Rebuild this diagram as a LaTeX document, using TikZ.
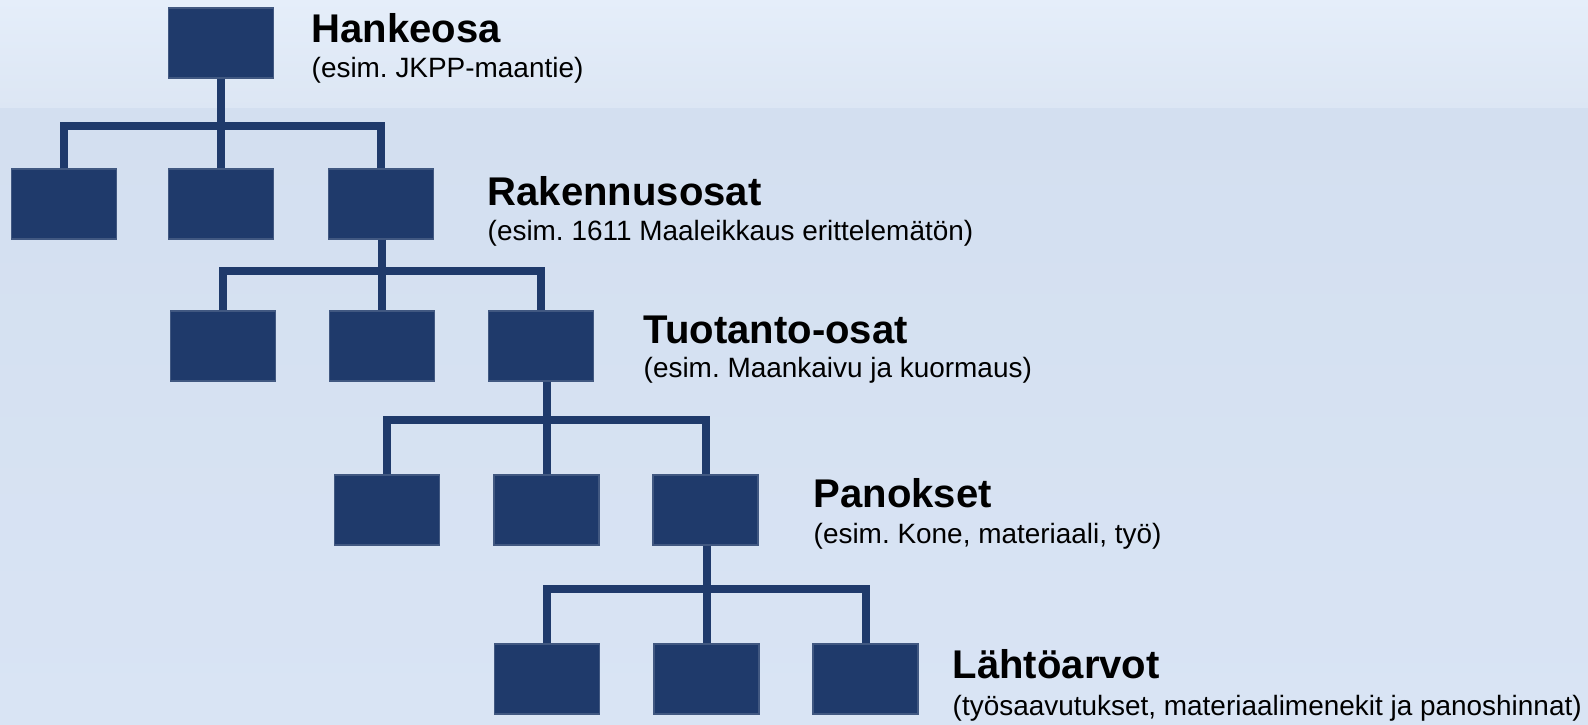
\documentclass[tikz,border=0pt]{standalone}
\usepackage{fontspec}
\setmainfont{Liberation Sans}
\usetikzlibrary{positioning}
\frenchspacing
\definecolor{lohkosin}{HTML}{1F3A6B}
\definecolor{taustaA}{HTML}{E5EEFA}
\definecolor{taustaB}{HTML}{DCE6F4}
\definecolor{taustaC}{HTML}{D3DFF0}
\definecolor{taustaD}{HTML}{D9E4F4}
\tikzset{
    lohko/.style={fill=lohkosin, draw=lohkosin!85!white, line width=0.3pt,
        minimum width=1.05cm, minimum height=0.70cm, inner sep=0pt},
    linja/.style={draw=lohkosin, line width=0.08cm},
    otsikko/.style={anchor=base west, inner sep=0pt,
        font=\bfseries\fontsize{11.4}{13}\selectfont},
    selite/.style={anchor=base west, inner sep=0pt,
        font=\fontsize{7.95}{10}\selectfont},
}
\begin{document}
\begin{tikzpicture}
    \useasboundingbox (0,0) rectangle (15.88,-7.24);
    \shade[top color=taustaA, bottom color=taustaB] (0,0) rectangle (15.88,-1.08);
    \shade[top color=taustaC, bottom color=taustaD] (0,-1.08) rectangle (15.88,-7.24);

    % lohkot
    \node[lohko] (h) at (2.21,-0.43) {};
    \foreach \n/\x in {a/0.64, b/2.21, c/3.81}
    {\node[lohko] (r\n) at (\x,-2.04) {};}
    \foreach \n/\x in {a/2.23, b/3.82, c/5.41}
    {\node[lohko] (t\n) at (\x,-3.46) {};}
    \foreach \n/\x in {a/3.87, b/5.465, c/7.055}
    {\node[lohko] (p\n) at (\x,-5.10) {};}
    \foreach \n/\x in {a/5.47, b/7.065, c/8.655}
    {\node[lohko] (l\n) at (\x,-6.79) {};}

    % viivat
    \coordinate (v1) at (0,-1.255);
    \coordinate (v2) at (0,-2.71);
    \coordinate (v3) at (0,-4.195);
    \coordinate (v4) at (0,-5.89);
    \draw[linja] (ra.north) -- (ra.north |- v1) -| (rc.north);
    \draw[linja] (rb.north |- h.south) -- (rb.north);
    \draw[linja] (ta.north) -- (ta.north |- v2) -| (tc.north);
    \draw[linja] (tb.north |- rc.south) -- (tb.north);
    \draw[linja] (pa.north) -- (pa.north |- v3) -| (pc.north);
    \draw[linja] (pb.north |- tc.south) -- (pb.north);
    \draw[linja] (la.north) -- (la.north |- v4) -| (lc.north);
    \draw[linja] (lb.north |- pc.south) -- (lb.north);

    % tekstit
    \node[otsikko] (o0) at (3.11,-0.42) {Hankeosa};
    \node[selite] (s0) at ([yshift=-0.35cm]o0.base west) {(esim. JKPP-maantie)};
    \node[otsikko] (o1) at (4.87,-2.05) {Rakennusosat};
    \node[selite] (s1) at ([yshift=-0.35cm]o1.base west) {(esim. 1611 Maaleikkaus erittelemätön)};
    \node[otsikko] (o2) at (6.43,-3.43) {Tuotanto-osat};
    \node[selite] (s2) at ([yshift=-0.34cm]o2.base west) {(esim. Maankaivu ja kuormaus)};
    \node[otsikko] (o3) at (8.13,-5.07) {Panokset};
    \node[selite] (s3) at ([yshift=-0.36cm]o3.base west) {(esim. Kone, materiaali, työ)};
    \node[otsikko] (o4) at (9.52,-6.78) {Lähtöarvot};
    \node[selite] (s4) at ([yshift=-0.37cm]o4.base west) {(työsaavutukset, materiaalimenekit ja panoshinnat)};
\end{tikzpicture}
\end{document}
